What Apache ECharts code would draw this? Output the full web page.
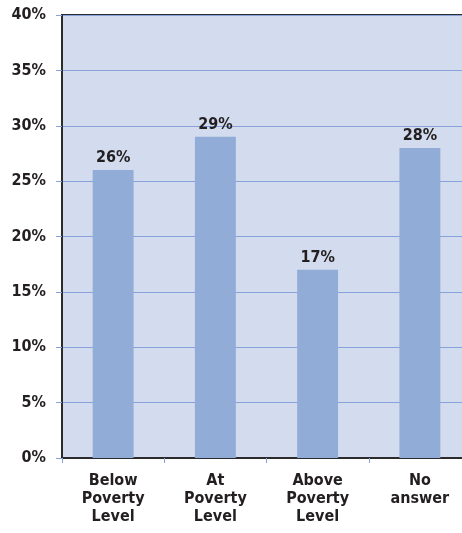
<!DOCTYPE html>
<html>
<head>
<meta charset="utf-8">
<script src="https://cdn.jsdelivr.net/npm/echarts@6/dist/echarts.min.js"></script>
<style>
  html, body { margin: 0; padding: 0; background: #fff; overflow: hidden; }
  #chart { width: 472px; height: 533px; }
</style>
</head>
<body>
<div id="chart"></div>
<script>
const categories = ['Below\nPoverty\nLevel', 'At\nPoverty\nLevel', 'Above\nPoverty\nLevel', 'No\nanswer']
const values = [26, 29, 17, 28]

const font = "'Liberation Sans Narrow', 'DejaVu Sans Condensed', 'Liberation Sans', sans-serif"
const textColor = '#231f20'
const gridBlue = '#86a2d8'

const chart = echarts.init(document.getElementById('chart'))

chart.setOption({
  backgroundColor: '#ffffff',
  animation: false,
  grid: {
    left: 62, right: 1, top: 15, bottom: 75,
    show: true,
    backgroundColor: '#d3dbee',
    borderColor: '#2b2b2e',
    borderWidth: 2
  },
  xAxis: {
    type: 'category',
    data: categories,
    axisLine: { lineStyle: { color: '#2b2b2e', width: 2 } },
    axisTick: { show: true, length: 5, lineStyle: { color: gridBlue } },
    axisLabel: {
      color: textColor, fontFamily: font, fontWeight: 'bold',
      fontSize: 16, lineHeight: 18, margin: 14
    }
  },
  yAxis: {
    type: 'value',
    min: 0, max: 40, interval: 5,
    axisLine: { show: true, lineStyle: { color: '#2b2b2e', width: 2 } },
    axisTick: { show: true, length: 6, lineStyle: { color: gridBlue } },
    splitLine: { lineStyle: { color: gridBlue, width: 1 } },
    axisLabel: {
      formatter: '{value}%', color: textColor, fontFamily: font,
      fontWeight: 'bold', fontSize: 16, margin: 16
    }
  },
  series: [{
    type: 'bar',
    data: values,
    barWidth: '40%',
    itemStyle: { color: '#91acd6' },
    label: {
      show: true, position: 'top', formatter: '{c}%', distance: 4,
      color: textColor, fontFamily: font, fontWeight: 'bold', fontSize: 16
    }
  }]
})
</script>
</body>
</html>
